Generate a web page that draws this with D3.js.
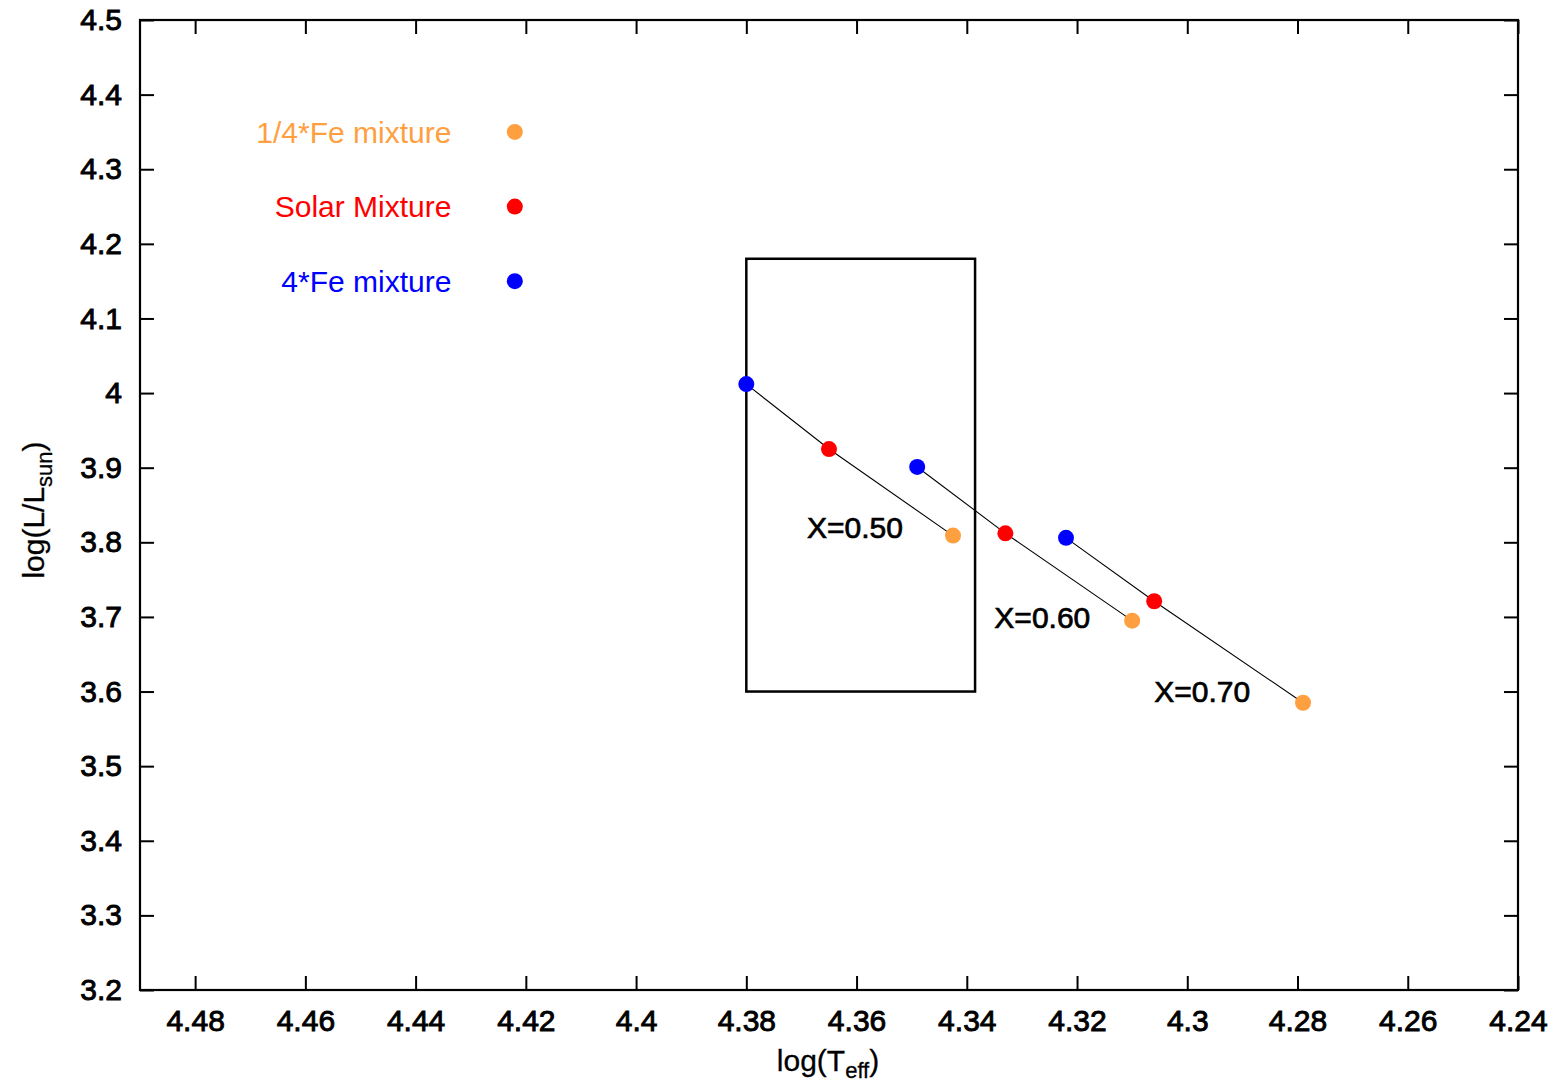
<!DOCTYPE html>
<html>
<head>
<meta charset="utf-8">
<script src="https://cdn.jsdelivr.net/npm/d3@7"></script>
<style>
  html, body { margin: 0; padding: 0; background: #fff; }
  text { font-family: "Liberation Sans", Arial, sans-serif; }
</style>
</head>
<body>
<svg id="chart" width="1567" height="1084"></svg>
<script>
// ---- data ----
const xTicks = [4.48, 4.46, 4.44, 4.42, 4.40, 4.38, 4.36, 4.34, 4.32, 4.30, 4.28, 4.26, 4.24];
const xTickLabels = ["4.48","4.46","4.44","4.42","4.4","4.38","4.36","4.34","4.32","4.3","4.28","4.26","4.24"];
const yTicks = [3.2, 3.3, 3.4, 3.5, 3.6, 3.7, 3.8, 3.9, 4.0, 4.1, 4.2, 4.3, 4.4, 4.5];
const yTickLabels = ["3.2","3.3","3.4","3.5","3.6","3.7","3.8","3.9","4","4.1","4.2","4.3","4.4","4.5"];

const mixtures = ["4*Fe mixture", "Solar Mixture", "1/4*Fe mixture"];
const mixtureColors = ["#0000ff", "#ff0000", "#ffa040"];

// X=0.50 track (blue, red, orange)
const track050_logT = [4.380, 4.365, 4.3425];
const track050_logL = [4.012, 3.925, 3.809];
// X=0.60 track
const track060_logT = [4.349, 4.333, 4.310];
const track060_logL = [3.901, 3.812, 3.695];
// X=0.70 track
const track070_logT = [4.322, 4.306, 4.279];
const track070_logL = [3.806, 3.721, 3.585];

const trackLabels = ["X=0.50", "X=0.60", "X=0.70"];
const trackLabel_logT = [4.369, 4.335, 4.306];
const trackLabel_logL = [3.82, 3.70, 3.60];

// box
const boxLogT = [4.380, 4.3385];
const boxLogL = [3.60, 4.18];

// legend key positions
const legendKeyLogT = 4.422;
const legendTextLogT = 4.4335;
const legendLogL = [4.15, 4.25, 4.35];

// ---- chart ----
const svg = d3.select("#chart");
const M = {left: 140, right: 1518, top: 20, bottom: 990};
const x = d3.scaleLinear().domain([4.49, 4.24]).range([M.left, M.right]);
const y = d3.scaleLinear().domain([3.2, 4.5]).range([M.bottom, M.top]);

const TL = 14;
const fontSize = 30;

// axes with inward ticks
const xAxisB = d3.axisBottom(x).tickValues(xTicks).tickFormat((d,i)=>xTickLabels[i]).tickSizeInner(-TL).tickSizeOuter(0).tickPadding(20);
const xAxisT = d3.axisTop(x).tickValues(xTicks).tickFormat("").tickSizeInner(-TL).tickSizeOuter(0);
const yAxisL = d3.axisLeft(y).tickValues(yTicks).tickFormat((d,i)=>yTickLabels[i]).tickSizeInner(-TL).tickSizeOuter(0).tickPadding(18);
const yAxisR = d3.axisRight(y).tickValues(yTicks).tickFormat("").tickSizeInner(-TL).tickSizeOuter(0);

function style(g) {
  g.select(".domain").remove();
  g.selectAll("line").attr("stroke", "#000").attr("stroke-width", 2);
  g.selectAll("text").attr("font-size", fontSize).attr("fill", "#000")
    .attr("font-family", "Liberation Sans, Arial, sans-serif")
    .attr("stroke", "#000").attr("stroke-width", 0.9);
}
svg.append("g").attr("transform", `translate(0,${M.bottom})`).call(xAxisB).call(style);
svg.append("g").attr("transform", `translate(0,${M.top})`).call(xAxisT).call(style);
svg.append("g").attr("transform", `translate(${M.left},0)`).call(yAxisL).call(style);
svg.append("g").attr("transform", `translate(${M.right},0)`).call(yAxisR).call(style);

// frame
svg.append("rect")
  .attr("x", M.left).attr("y", M.top)
  .attr("width", M.right - M.left).attr("height", M.bottom - M.top)
  .attr("fill", "none").attr("stroke", "#000").attr("stroke-width", 2.2);

// axis titles
const xt = svg.append("text").attr("x", 828).attr("y", 1071).attr("text-anchor", "middle")
  .attr("font-size", fontSize).attr("fill", "#000").attr("stroke", "#000").attr("stroke-width", 0.3);
xt.append("tspan").text("log(T");
xt.append("tspan").attr("font-size", 22).attr("dy", 7).text("eff");
xt.append("tspan").attr("dy", -7).text(")");

const yt = svg.append("text").attr("transform", "translate(44,510) rotate(-90)")
  .attr("text-anchor", "middle").attr("font-size", fontSize).attr("fill", "#000")
  .attr("stroke", "#000").attr("stroke-width", 0.3);
yt.append("tspan").text("log(L/L");
yt.append("tspan").attr("font-size", 22).attr("dy", 8).text("sun");
yt.append("tspan").attr("dy", -8).text(")");

// box
svg.append("rect")
  .attr("x", x(boxLogT[0])).attr("y", y(boxLogL[1]))
  .attr("width", x(boxLogT[1]) - x(boxLogT[0]))
  .attr("height", y(boxLogL[0]) - y(boxLogL[1]))
  .attr("fill", "none").attr("stroke", "#000").attr("stroke-width", 2.5);

// tracks
const tracks = [
  {T: track050_logT, L: track050_logL},
  {T: track060_logT, L: track060_logL},
  {T: track070_logT, L: track070_logL}
];
const line = d3.line().x(d => x(d[0])).y(d => y(d[1]));
tracks.forEach(t => {
  const pts = t.T.map((v, i) => [v, t.L[i]]);
  svg.append("path").attr("d", line(pts)).attr("fill", "none")
    .attr("stroke", "#000").attr("stroke-width", 1.1);
});
tracks.forEach(t => {
  t.T.forEach((v, i) => {
    svg.append("circle").attr("cx", x(v)).attr("cy", y(t.L[i])).attr("r", 8)
      .attr("fill", mixtureColors[i]);
  });
});

// track labels
trackLabels.forEach((s, i) => {
  svg.append("text").attr("x", x(trackLabel_logT[i])).attr("y", y(trackLabel_logL[i]))
    .attr("dy", "0.36em").attr("font-size", fontSize).attr("fill", "#000")
    .attr("stroke", "#000").attr("stroke-width", 0.7).text(s);
});

// legend
mixtures.forEach((m, i) => {
  svg.append("text").attr("x", x(legendTextLogT)).attr("y", y(legendLogL[i]))
    .attr("dy", "0.36em").attr("text-anchor", "end").attr("font-size", fontSize)
    .attr("fill", mixtureColors[i]).text(m);
  svg.append("circle").attr("cx", x(legendKeyLogT)).attr("cy", y(legendLogL[i])).attr("r", 8)
    .attr("fill", mixtureColors[i]);
});
</script>
</body>
</html>
